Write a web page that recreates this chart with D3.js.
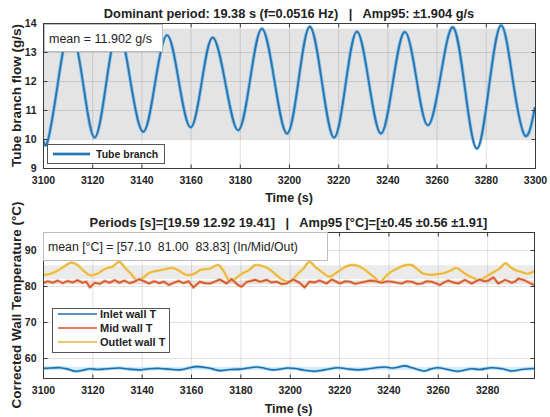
<!DOCTYPE html>
<html><head><meta charset="utf-8">
<script src="https://cdn.jsdelivr.net/npm/d3@7/dist/d3.min.js"></script>
<style>
body{margin:0;background:#fff}
text{font-family:"Liberation Sans",Arial,Helvetica,sans-serif;fill:#222}
</style>
</head><body>
<svg id="chart" width="550" height="417"></svg>
<script>
// ---- Tube branch flow (g/s): extrema and mid-crossings of the oscillation ----
const flowTime = [3100, 3102, 3106, 3111, 3116.3, 3121, 3125.7, 3130.5, 3135.5, 3140.7, 3145.5, 3150.4, 3155.2, 3160, 3164.5, 3169, 3174.2, 3179.4, 3184.2, 3189, 3194.1, 3199.2, 3203.9, 3208.5, 3213.4, 3218.3, 3223, 3227.6, 3232.5, 3237.4, 3242.2, 3247, 3251.8, 3256.5, 3261.6, 3266.7, 3271.5, 3276.4, 3281.3, 3286.2, 3291, 3295.9, 3300];
const flowValue = [9.98, 9.95, 11.9, 13.8, 11.92, 10.05, 11.92, 13.8, 12.02, 10.25, 11.9, 13.58, 11.99, 10.4, 11.95, 13.5, 11.9, 10.3, 12.05, 13.8, 12.0, 10.19, 12.03, 13.87, 11.96, 10.05, 11.88, 13.7, 11.94, 10.19, 11.94, 13.69, 12.08, 10.47, 12.16, 13.85, 11.76, 9.67, 11.8, 13.92, 12.02, 10.12, 11.1];
const flowMean = 11.902, flowAmp95 = 1.904;
const flowXTicks = [3100, 3120, 3140, 3160, 3180, 3200, 3220, 3240, 3260, 3280, 3300];
const flowYTicks = [9, 10, 11, 12, 13, 14];

// ---- Corrected wall temperatures (°C) ----
const inletTime = [3100, 3103, 3107, 3110, 3113, 3116, 3119, 3122, 3126, 3131, 3135, 3139, 3143, 3147.4, 3151, 3155.5, 3159, 3162, 3166.5, 3169, 3171.7, 3176, 3180, 3183, 3186.8, 3190, 3193.4, 3196, 3199, 3202, 3206, 3210, 3214, 3219.7, 3223, 3227.8, 3232, 3235, 3238.5, 3242, 3246.6, 3250, 3254.7, 3257, 3260, 3264, 3268, 3273.7, 3277, 3281.8, 3286, 3290, 3294, 3299];
const inletValue = [57.1, 57.2, 57.3, 56.9, 56.3, 56.6, 57.0, 56.8, 57.0, 57.2, 56.9, 56.7, 57.0, 57.1, 56.9, 56.7, 57.2, 57.6, 57.3, 56.9, 56.5, 56.8, 56.9, 57.2, 57.5, 57.1, 56.7, 56.9, 57.2, 57.1, 56.6, 56.3, 56.7, 57.3, 57.0, 56.7, 57.0, 57.3, 57.5, 57.2, 57.8, 57.2, 56.4, 56.9, 57.3, 56.8, 56.3, 57.0, 56.8, 57.3, 57.0, 56.4, 56.8, 57.1];

const midTime = [3100, 3102, 3104, 3106, 3108, 3110, 3112, 3114, 3116, 3117.5, 3119, 3121, 3123, 3125, 3127, 3129, 3131, 3133, 3135, 3137, 3139, 3141, 3143, 3145, 3147, 3149, 3151, 3153, 3155, 3157, 3159, 3161, 3163.6, 3165.5, 3167.7, 3170, 3171.7, 3174.4, 3176.4, 3179, 3180.5, 3182.5, 3186, 3188, 3190.7, 3192.5, 3194.7, 3196.5, 3198.7, 3201.4, 3204, 3206, 3208, 3210, 3212, 3215, 3217, 3220.4, 3222.5, 3224.4, 3226.5, 3228.5, 3230.5, 3232.6, 3234.5, 3237.3, 3239.5, 3241.3, 3243.5, 3245.4, 3247.5, 3249.4, 3251.5, 3253.5, 3255.5, 3257.5, 3259.5, 3260.9, 3262.5, 3264.3, 3266.3, 3268.3, 3271, 3273.7, 3275.5, 3277, 3278.8, 3280.5, 3282.5, 3284.5, 3286, 3287.3, 3290, 3291.5, 3292.7, 3295.4, 3297.4, 3299];
const midValue = [80.8, 81.3, 80.9, 81.5, 80.8, 81.4, 81.0, 81.6, 80.9, 81.2, 79.6, 80.9, 80.6, 81.4, 80.9, 81.6, 80.9, 81.5, 80.8, 81.2, 81.9, 81.3, 80.7, 81.3, 80.8, 81.2, 80.3, 80.9, 81.4, 80.8, 81.3, 79.6, 81.2, 80.8, 80.7, 81.3, 81.8, 80.7, 81.9, 80.3, 79.8, 81.1, 81.7, 81.2, 81.7, 81.0, 81.2, 80.6, 80.7, 81.8, 80.9, 79.6, 81.2, 81.0, 81.5, 80.7, 81.8, 80.7, 81.3, 81.2, 80.6, 80.9, 81.2, 81.5, 81.4, 80.9, 81.3, 81.2, 80.9, 80.7, 81.3, 81.2, 80.6, 80.7, 81.3, 81.2, 80.7, 80.3, 81.0, 81.5, 81.0, 80.7, 81.7, 80.7, 81.3, 81.8, 81.3, 81.5, 82.4, 80.7, 81.2, 81.7, 80.9, 81.3, 82.1, 81.5, 80.8, 80.3];

const outletTime = [3100, 3103, 3106, 3109, 3111.5, 3114, 3116.5, 3119, 3122, 3124, 3126, 3128, 3131, 3133, 3135.5, 3138, 3140.5, 3143, 3146, 3149, 3152.5, 3155, 3158, 3161, 3164, 3167.5, 3171, 3173.5, 3175.8, 3178, 3181, 3183.5, 3186, 3189, 3191, 3193.5, 3196, 3198.5, 3200.5, 3203, 3205.5, 3208, 3210, 3212, 3214, 3216, 3218, 3220.5, 3222.5, 3225, 3228, 3230.5, 3233, 3235, 3236.5, 3238.5, 3241, 3244, 3247, 3249.5, 3251.5, 3254, 3257.5, 3260, 3263, 3265.5, 3267.5, 3269.5, 3272, 3274.5, 3277, 3279.5, 3282, 3285, 3287.5, 3289.5, 3291.5, 3294, 3296.5, 3299];
const outletValue = [83.0, 83.4, 84.3, 85.6, 86.5, 85.8, 84.2, 83.0, 83.4, 84.3, 85.0, 85.3, 86.7, 85.2, 83.5, 81.7, 82.3, 83.6, 84.2, 84.6, 85.0, 84.3, 83.1, 83.3, 84.5, 84.8, 85.8, 83.8, 81.2, 82.1, 83.6, 84.4, 85.8, 85.5, 85.0, 83.7, 82.2, 81.3, 81.4, 83.2, 84.8, 86.7, 85.5, 84.4, 83.4, 82.6, 83.3, 84.4, 85.3, 85.8, 85.5, 84.5, 83.1, 82.0, 81.1, 82.4, 83.9, 85.0, 85.8, 85.8, 84.8, 83.5, 83.1, 83.3, 83.7, 84.4, 85.0, 84.2, 83.0, 82.2, 81.6, 82.6, 83.6, 84.8, 86.3, 85.2, 84.4, 83.9, 83.4, 84.1];

const wallMeans = [57.10, 81.00, 83.83];
const wallAmp95 = [0.45, 0.56, 1.91];
const wallNames = ["Inlet wall T", "Mid wall T", "Outlet wall T"];
const wallColors = ["#1f6fae", "#d4572a", "#e8b43a"];
const wallXTicks = [3100, 3120, 3140, 3160, 3180, 3200, 3220, 3240, 3260, 3280];
const wallYTicks = [60, 70, 80, 90];

const svg = d3.select("#chart");

// Draws one MATLAB-style axes box: grid, mirrored inward ticks, tick labels, titles.
function makeAxes(cfg) {
  const g = svg.append("g");
  const x = d3.scaleLinear().domain(cfg.xDomain).range([cfg.left, cfg.right]);
  const y = d3.scaleLinear().domain(cfg.yDomain).range([cfg.bottom, cfg.top]);
  const back = g.append("g");
  const grid = g.append("g");
  grid.selectAll("line.gx").data(cfg.xTicks).join("line")
    .attr("x1", d => x(d) + 0.5).attr("x2", d => x(d) + 0.5)
    .attr("y1", cfg.top).attr("y2", cfg.bottom)
    .attr("stroke", "#000").attr("stroke-opacity", 0.12);
  grid.selectAll("line.gy").data(cfg.yTicks).join("line")
    .attr("y1", d => y(d) + 0.5).attr("y2", d => y(d) + 0.5)
    .attr("x1", cfg.left).attr("x2", cfg.right)
    .attr("stroke", "#000").attr("stroke-opacity", 0.12);
  const plot = g.append("g");
  const clipId = "clip" + Math.round(cfg.top);
  svg.append("clipPath").attr("id", clipId).append("rect")
    .attr("x", cfg.left).attr("y", cfg.top)
    .attr("width", cfg.right - cfg.left).attr("height", cfg.bottom - cfg.top);
  plot.attr("clip-path", `url(#${clipId})`);

  const frame = g.append("g");
  // bottom axis with labels, top mirror with inward ticks only
  const ax = frame.append("g").attr("transform", `translate(0,${cfg.bottom + 0.5})`)
    .call(d3.axisBottom(x).tickValues(cfg.xTicks).tickSizeInner(-4).tickSizeOuter(0).tickPadding(8).tickFormat(d3.format("d")));
  const axTop = frame.append("g").attr("transform", `translate(0,${cfg.top + 0.5})`)
    .call(d3.axisTop(x).tickValues(cfg.xTicks).tickSizeInner(-4).tickSizeOuter(0).tickFormat(""));
  const ay = frame.append("g").attr("transform", `translate(${cfg.left + 0.5},0)`)
    .call(d3.axisLeft(y).tickValues(cfg.yTicks).tickSizeInner(-4).tickSizeOuter(0).tickPadding(7).tickFormat(d3.format("d")));
  const ayR = frame.append("g").attr("transform", `translate(${cfg.right + 0.5},0)`)
    .call(d3.axisRight(y).tickValues(cfg.yTicks).tickSizeInner(-4).tickSizeOuter(0).tickFormat(""));
  [ax, axTop, ay, ayR].forEach(a => {
    a.select(".domain").remove();
    a.selectAll("line").attr("stroke", "#3a3a3a");
    a.selectAll("text").attr("font-size", "10.5px").attr("font-weight", "bold").attr("fill", "#222");
  });
  frame.append("rect")
    .attr("x", cfg.left + 0.5).attr("y", cfg.top + 0.5)
    .attr("width", cfg.right - cfg.left).attr("height", cfg.bottom - cfg.top)
    .attr("fill", "none").attr("stroke", "#3a3a3a").attr("stroke-width", 1);

  svg.append("text").attr("x", (cfg.left + cfg.right) / 2).attr("y", cfg.top - 5)
    .attr("text-anchor", "middle").attr("font-size", "12.8px").attr("font-weight", "bold")
    .style("white-space", "pre").text(cfg.title);
  svg.append("text").attr("x", (cfg.left + cfg.right) / 2).attr("y", cfg.xLabelY)
    .attr("text-anchor", "middle").attr("font-size", "12.5px").attr("font-weight", "bold")
    .text("Time (s)");
  svg.append("text")
    .attr("transform", `translate(21,${(cfg.top + cfg.bottom) / 2}) rotate(-90)`)
    .attr("text-anchor", "middle").attr("font-size", cfg.yLabelSize).attr("font-weight", "bold")
    .text(cfg.yLabel);
  return {x, y, back, plot, frame};
}

// ================= Upper panel: tube branch flow =================
const flowPanel = makeAxes({
  left: 43, right: 535, top: 23, bottom: 168,
  xDomain: [3100, 3300], yDomain: [9, 14],
  xTicks: flowXTicks, yTicks: flowYTicks,
  title: "Dominant period: 19.38 s (f=0.0516 Hz)   |   Amp95: \u00b11.904 g/s",
  xLabelY: 202, yLabel: "Tube branch flow (g/s)", yLabelSize: "13.5px"
});
flowPanel.back.append("rect")
  .attr("x", flowPanel.x(3100)).attr("width", flowPanel.x(3300) - flowPanel.x(3100))
  .attr("y", flowPanel.y(flowMean + flowAmp95))
  .attr("height", flowPanel.y(flowMean - flowAmp95) - flowPanel.y(flowMean + flowAmp95))
  .attr("fill", "#e4e4e4");

const flowPts = flowTime.map((t, i) => [t, flowValue[i]]);
const flowLine = d3.line().x(d => flowPanel.x(d[0])).y(d => flowPanel.y(d[1])).curve(d3.curveNatural);
flowPanel.plot.append("path").attr("d", flowLine(flowPts)).attr("fill", "none")
  .attr("stroke", "#8cc3ea").attr("stroke-width", 3.6).attr("stroke-linejoin", "round");
flowPanel.plot.append("path").attr("d", flowLine(flowPts)).attr("fill", "none")
  .attr("stroke", "#2a74ad").attr("stroke-width", 1.8).attr("stroke-linejoin", "round");

// mean annotation
svg.append("rect").attr("x", 44.5).attr("y", 24.5).attr("width", 118).attr("height", 27)
  .attr("fill", "#fff").attr("stroke", "#bdbdbd");
svg.append("text").attr("x", 49).attr("y", 43).attr("font-size", "12.5px")
  .text("mean = " + flowMean.toFixed(3) + " g/s");

// legend
svg.append("rect").attr("x", 47.5).attr("y", 144.5).attr("width", 117).attr("height", 19)
  .attr("fill", "#fff").attr("stroke", "#555");
svg.append("line").attr("x1", 53).attr("x2", 90).attr("y1", 154).attr("y2", 154)
  .attr("stroke", "#8cc3ea").attr("stroke-width", 3.6);
svg.append("line").attr("x1", 53).attr("x2", 90).attr("y1", 154).attr("y2", 154)
  .attr("stroke", "#2a74ad").attr("stroke-width", 1.8);
svg.append("text").attr("x", 96).attr("y", 158).attr("font-size", "10.5px")
  .attr("font-weight", "bold").text("Tube branch");

// ================= Lower panel: wall temperatures =================
const wallPanel = makeAxes({
  left: 43, right: 534, top: 232, bottom: 378,
  xDomain: [3100, 3299], yDomain: [54.44, 95],
  xTicks: wallXTicks, yTicks: wallYTicks,
  title: "Periods [s]=[19.59 12.92 19.41]   |   Amp95 [\u00b0C]=[\u00b10.45 \u00b10.56 \u00b11.91]",
  xLabelY: 413, yLabel: "Corrected Wall Temperature (\u00b0C)", yLabelSize: "13.5px"
});
const bandFills = ["#d5eef9", "#e6e6e6", "#ebebeb"];
wallMeans.forEach((m, i) => {
  wallPanel.back.append("rect")
    .attr("x", wallPanel.x(3100)).attr("width", wallPanel.x(3299) - wallPanel.x(3100))
    .attr("y", wallPanel.y(m + wallAmp95[i]))
    .attr("height", wallPanel.y(m - wallAmp95[i]) - wallPanel.y(m + wallAmp95[i]))
    .attr("fill", bandFills[i]);
});

const wallSeries = [
  {t: inletTime, v: inletValue, curve: d3.curveCatmullRom, glow: "#a8dcf5"},
  {t: midTime, v: midValue, curve: d3.curveLinear, glow: "#f0b9a0"},
  {t: outletTime, v: outletValue, curve: d3.curveCatmullRom, glow: "#f6dc95"}
];
const wallLine = d3.line().x(d => wallPanel.x(d[0])).y(d => wallPanel.y(d[1]));
// outlet drawn first so mid and inlet sit on top of it
[2, 1, 0].forEach(i => {
  const s = wallSeries[i];
  const pts = s.t.map((t, k) => [t, s.v[k]]);
  wallLine.curve(s.curve);
  wallPanel.plot.append("path").attr("d", wallLine(pts)).attr("fill", "none")
    .attr("stroke", s.glow).attr("stroke-width", 3.2).attr("stroke-linejoin", "round");
  wallPanel.plot.append("path").attr("d", wallLine(pts)).attr("fill", "none")
    .attr("stroke", wallColors[i]).attr("stroke-width", 1.6).attr("stroke-linejoin", "round");
});

// mean annotation
svg.append("rect").attr("x", 43.5).attr("y", 232.5).attr("width", 284).attr("height", 28)
  .attr("fill", "#fff").attr("stroke", "#bdbdbd");
svg.append("text").attr("x", 48).attr("y", 251).attr("font-size", "12.3px")
  .style("white-space", "pre")
  .text("mean [\u00b0C] = [" + wallMeans.map(d => d.toFixed(2)).join("  ") + "] (In/Mid/Out)");

// legend
svg.append("rect").attr("x", 52.5).attr("y", 308.5).attr("width", 117).attr("height", 44)
  .attr("fill", "#fff").attr("stroke", "#555");
wallNames.forEach((name, i) => {
  const ly = 314 + i * 14;
  svg.append("line").attr("x1", 58).attr("x2", 97).attr("y1", ly).attr("y2", ly)
    .attr("stroke", wallColors[i]).attr("stroke-width", 1.6);
  svg.append("text").attr("x", 100).attr("y", ly + 3.8).attr("font-size", "11px")
    .attr("font-weight", "bold").text(name);
});
</script>
</body></html>
